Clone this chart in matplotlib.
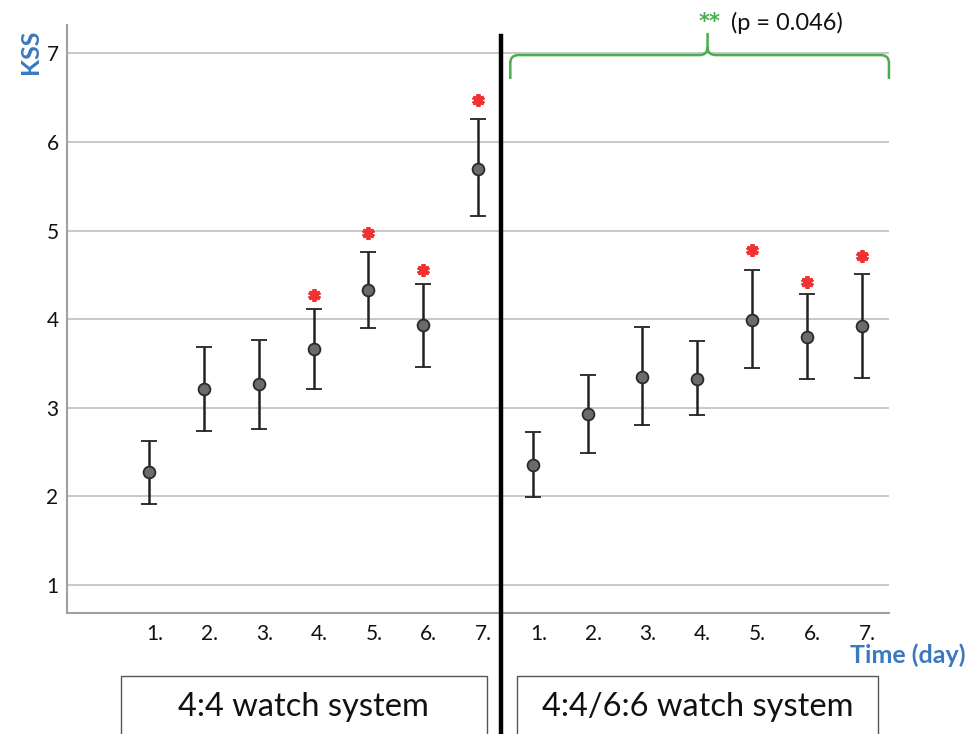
import matplotlib
matplotlib.use("Agg")
import matplotlib.pyplot as plt
import matplotlib.transforms as mtransforms
from matplotlib.path import Path
from matplotlib.patches import PathPatch, Rectangle

plt.rcParams["font.family"] = ["Lato", "DejaVu Sans"]

# KSS per day, two watch systems (mean with lower/upper error bar ends)
days = ["1.", "2.", "3.", "4.", "5.", "6.", "7."]
mean_44 = [2.27, 3.21, 3.27, 3.66, 4.33, 3.93, 5.70]
low_44 = [1.91, 2.74, 2.76, 3.21, 3.90, 3.46, 5.16]
high_44 = [2.625, 3.68, 3.77, 4.115, 4.755, 4.40, 6.26]
mean_66 = [2.35, 2.93, 3.35, 3.33, 3.99, 3.80, 3.92]
low_66 = [1.99, 2.49, 2.81, 2.915, 3.445, 3.32, 3.34]
high_66 = [2.727, 3.37, 3.91, 3.75, 4.555, 4.28, 4.51]
# red asterisk heights (significant days)
star_44 = {4: 4.27, 5: 4.97, 6: 4.555, 7: 6.47}
star_66 = {5: 4.78, 6: 4.42, 7: 4.71}
p_text = "(p = 0.046)"
groups = ["4:4 watch system", "4:4/6:6 watch system"]

BLUE = "#3a78c0"
RED = "#f03232"
GREEN = "#4aae4f"

x44 = list(range(1, 8))
x66 = list(range(8, 15))

fig = plt.figure(figsize=(9.69, 7.34), dpi=100)
ax = fig.add_axes([0.0691, 0.1649, 0.8483, 0.8011])

for xs, m, lo, hi in [(x44, mean_44, low_44, high_44), (x66, mean_66, low_66, high_66)]:
    err = [[a - b for a, b in zip(m, lo)], [c - a for a, c in zip(m, hi)]]
    ax.errorbar(xs, m, yerr=err, fmt="o", color="#222222", ecolor="#222222",
                elinewidth=1.8, capsize=5.5, capthick=1.8, markersize=8.5,
                markerfacecolor="#6b6b6b", markeredgecolor="#2a2a2a",
                markeredgewidth=1.3, zorder=3)

for xs, stars in [(x44, star_44), (x66, star_66)]:
    sx = [xs[d - 1] for d in stars]
    ax.plot(sx, list(stars.values()), linestyle="none", marker=(6, 2, 0),
            markersize=9, markeredgewidth=2.8, color=RED, zorder=4)

ax.set_xlim(-0.5, 14.5)
ax.set_ylim(0.684, 7.32)
ax.set_yticks(range(1, 8))
ax.set_xticks(x44 + x66)
ax.set_xticklabels(days + days)
ax.grid(axis="y", color="#c8c8c8", linewidth=1.4)
ax.set_axisbelow(True)
ax.tick_params(length=0, labelsize=15, pad=6, colors="#111111")
ax.tick_params(axis="x", pad=8)
off = mtransforms.ScaledTranslation(4 / 72, 0, fig.dpi_scale_trans)
for lab in ax.get_xticklabels():
    lab.set_transform(lab.get_transform() + off)
for s in ["top", "right"]:
    ax.spines[s].set_visible(False)
for s in ["left", "bottom"]:
    ax.spines[s].set_color("#a0a0a0")
    ax.spines[s].set_linewidth(1.5)

# separator between the two systems
xsep = 7.42
ax.plot([xsep, xsep], [-0.7, 7.2], color="black", linewidth=3.2,
        clip_on=False, zorder=5)

# green brace over the 4:4/6:6 days
x0, x1 = x66[0] - 0.41, 14.5
xm = (x66[0] + x66[-1]) / 2 + 0.19
yh, yb, yt = 6.98, 6.71, 7.23
rx, ry = 0.15, 0.09
verts = [(x0, yb), (x0, yh - ry), (x0, yh), (x0 + rx, yh), (xm - rx, yh),
         (xm, yh), (xm, yh + ry), (xm, yt),
         (xm, yh + ry), (xm, yh), (xm + rx, yh), (x1 - rx, yh),
         (x1, yh), (x1, yh - ry), (x1, yb)]
codes = [Path.MOVETO, Path.LINETO, Path.CURVE3, Path.CURVE3, Path.LINETO,
         Path.CURVE3, Path.CURVE3, Path.LINETO,
         Path.MOVETO, Path.CURVE3, Path.CURVE3, Path.LINETO,
         Path.CURVE3, Path.CURVE3, Path.LINETO]
ax.add_patch(PathPatch(Path(verts, codes), fill=False, edgecolor=GREEN,
                       linewidth=1.8, clip_on=False, zorder=4))
fig.text(710 / 969, 1 - 22 / 734, "**", color=GREEN, fontsize=15,
         fontweight="bold", family="DejaVu Sans", ha="center", va="center")
fig.text(731 / 969, 1 - 23 / 734, p_text, color="#111111", fontsize=17,
         ha="left", va="center")

fig.text(30 / 969, 1 - 52 / 734, "KSS", color=BLUE, fontsize=18,
         fontweight="bold", rotation=90, ha="center", va="center")
fig.text(966 / 969, 1 - 655 / 734, "Time (day)", color=BLUE, fontsize=18,
         fontweight="bold", ha="right", va="center")

# group boxes at the bottom
for (l, r), name in zip([(120.7, 486.7), (516.7, 878.3)], groups):
    fig.patches.append(Rectangle((l / 969, -0.05), (r - l) / 969, 0.05 + 1 - 676 / 734,
                                 transform=fig.transFigure, fill=False,
                                 edgecolor="#555555", linewidth=1.0))
    fig.text((l + r) / 2 / 969, 1 - 707 / 734, name, fontsize=23.5,
             ha="center", va="center", color="#111111")

fig.savefig("out.png", dpi=100)
